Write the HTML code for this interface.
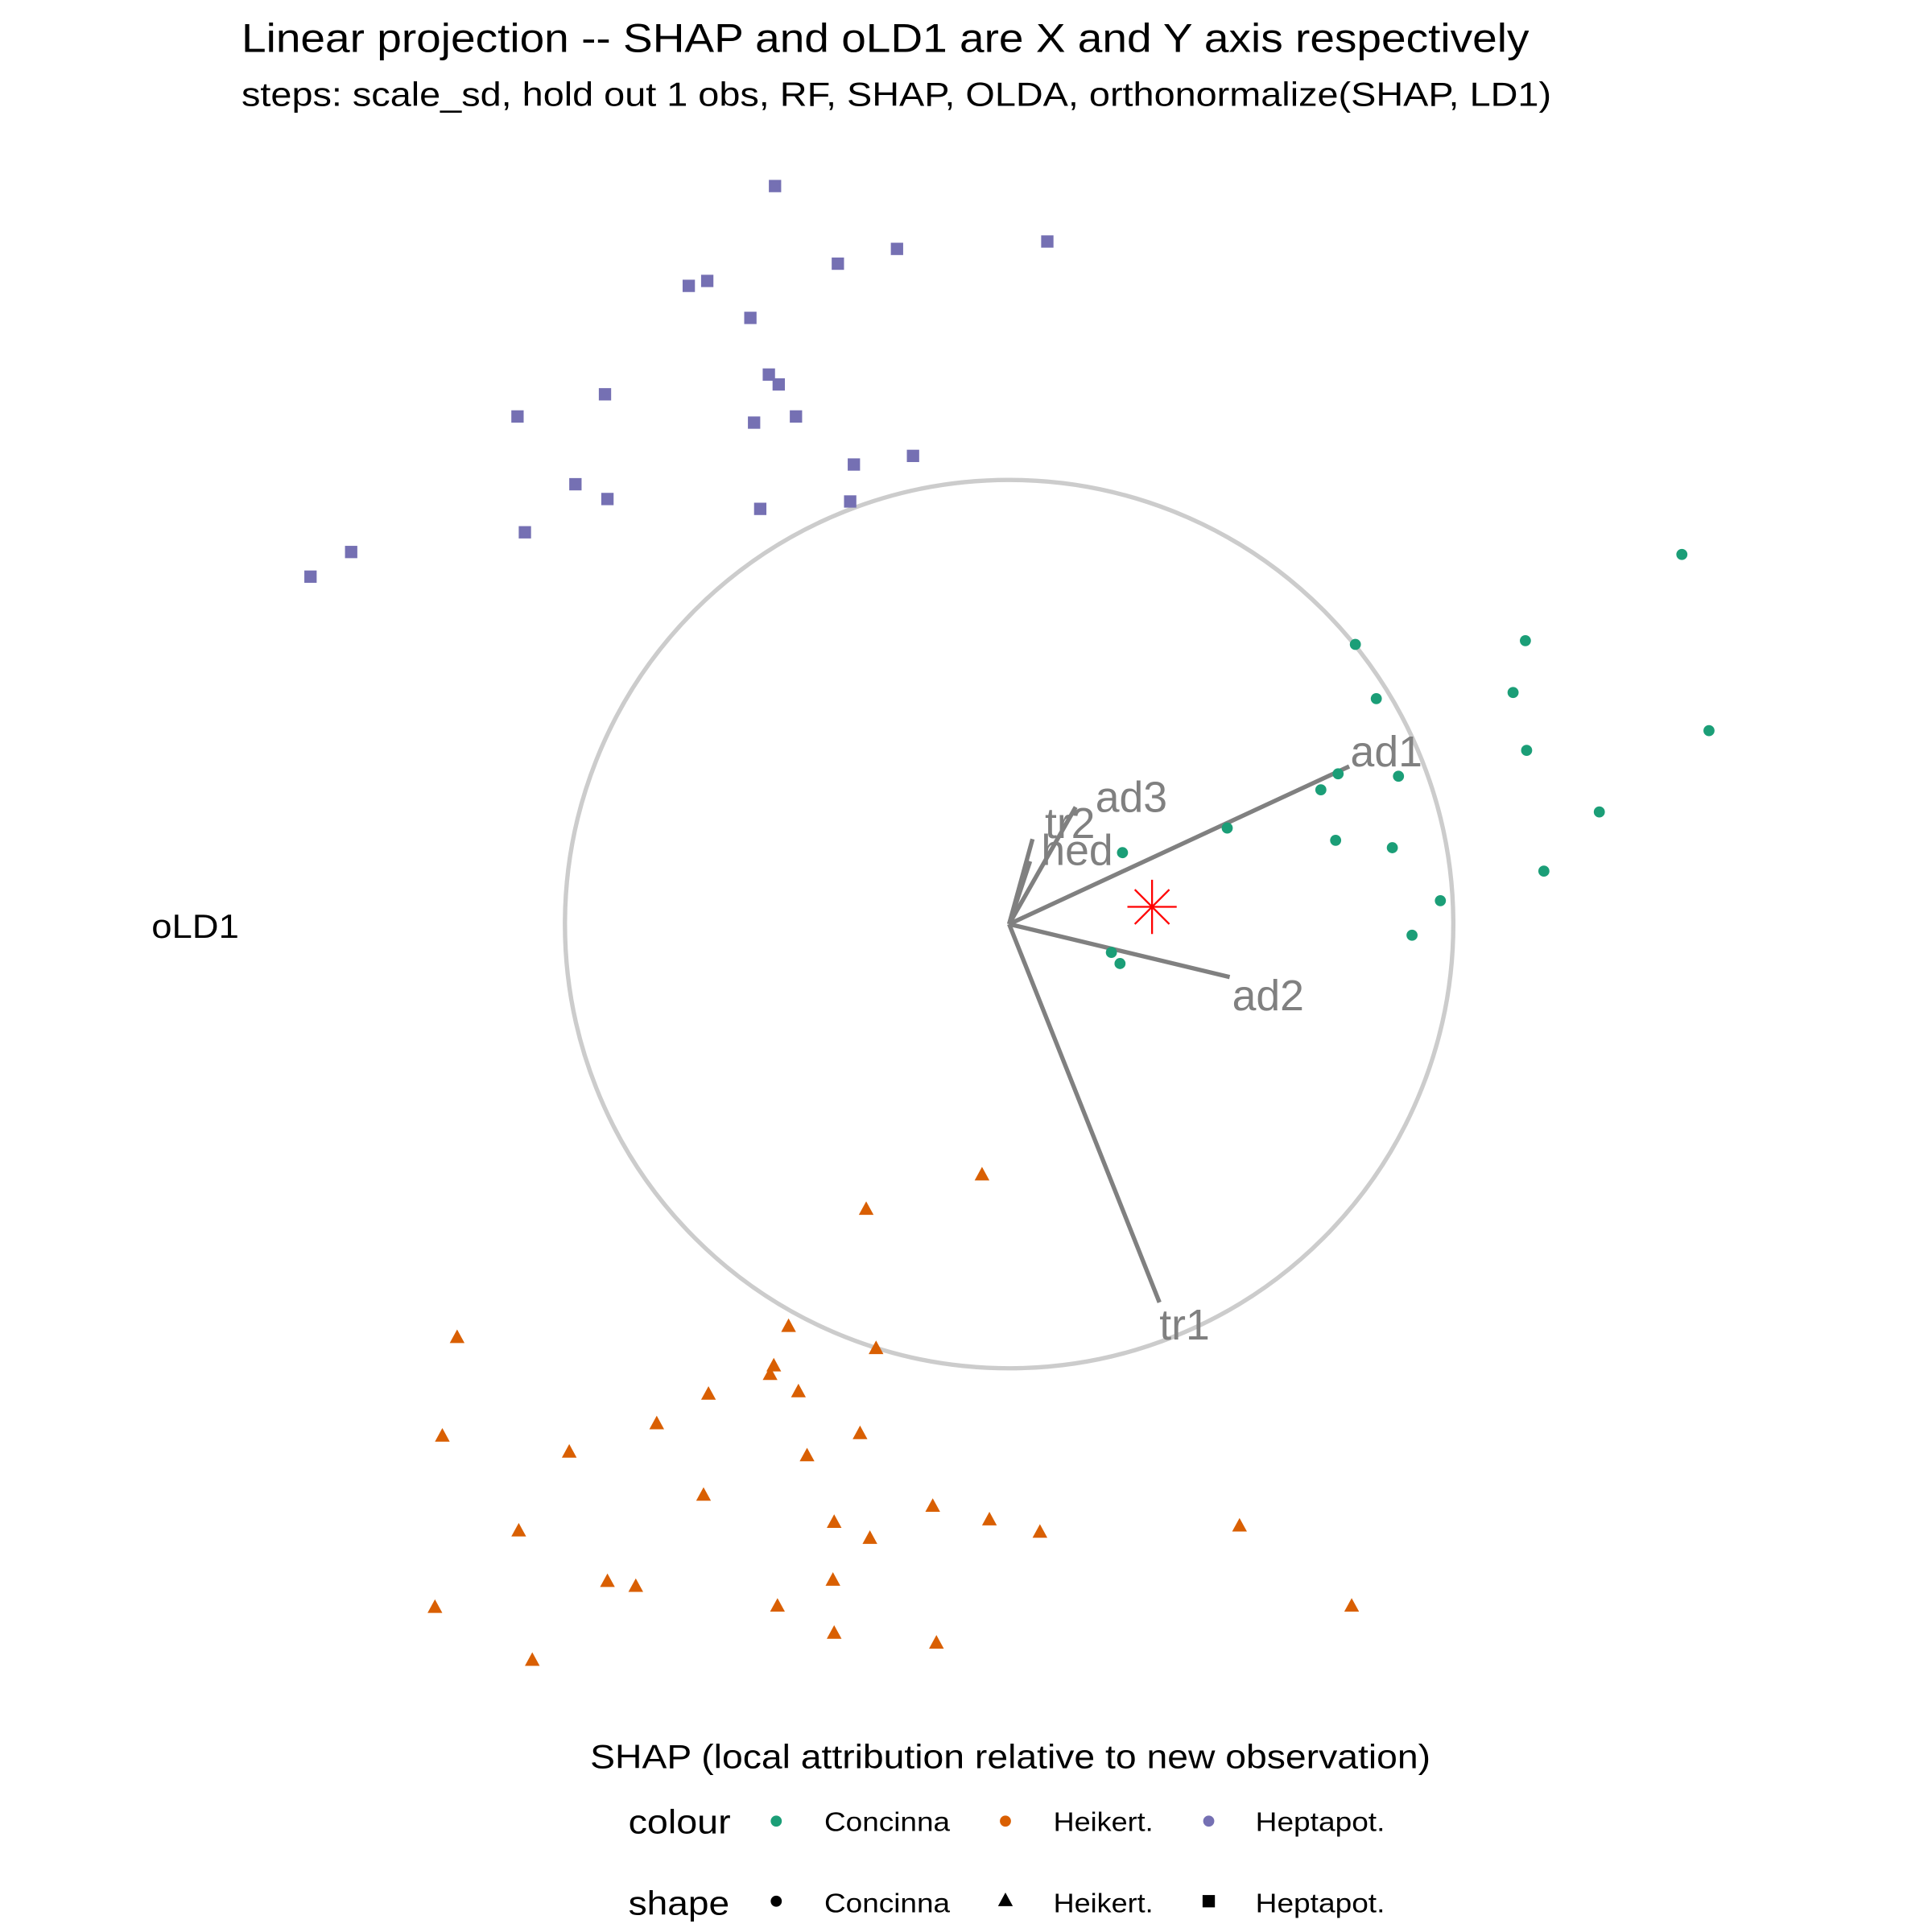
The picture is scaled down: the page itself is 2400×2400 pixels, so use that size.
<!DOCTYPE html>
<html><head><meta charset="utf-8"><style>html,body{margin:0;padding:0;background:#fff}svg{display:block}text{font-family:"Liberation Sans",Arial,sans-serif}</style></head>
<body>
<svg id="chart" width="2400" height="2400" viewBox="0 0 1568 1568" xmlns="http://www.w3.org/2000/svg">
<rect width="1568" height="1568" fill="#fff"/>
<text x="196" y="42" font-size="33" textLength="1045" lengthAdjust="spacingAndGlyphs">Linear projection -- SHAP and oLD1 are X and Y axis respectively</text>
<text x="196" y="86" font-size="27" textLength="1063" lengthAdjust="spacingAndGlyphs">steps: scale_sd, hold out 1 obs, RF, SHAP, OLDA, orthonormalize(SHAP, LD1)</text>
<text x="123" y="761" font-size="27" textLength="71" lengthAdjust="spacingAndGlyphs">oLD1</text>
<text x="479" y="1435" font-size="27" textLength="682" lengthAdjust="spacingAndGlyphs">SHAP (local attribution relative to new observation)</text>
<circle cx="819" cy="750" r="360.5" fill="none" stroke="#cccccc" stroke-width="3.5"/>
<g id="axes"></g><g id="pts"></g>
<g>
<text x="510" y="1488" font-size="27" textLength="83" lengthAdjust="spacingAndGlyphs">colour</text>
<circle cx="630" cy="1478" r="4.5" fill="#1b9e77"/><text x="669" y="1486" font-size="22" textLength="102" lengthAdjust="spacingAndGlyphs">Concinna</text>
<circle cx="816" cy="1478" r="4.5" fill="#d95f02"/><text x="855" y="1486" font-size="22" textLength="81" lengthAdjust="spacingAndGlyphs">Heikert.</text>
<circle cx="981" cy="1478" r="4.5" fill="#7570b3"/><text x="1019" y="1486" font-size="22" textLength="105" lengthAdjust="spacingAndGlyphs">Heptapot.</text>
<text x="510" y="1554" font-size="27" textLength="82" lengthAdjust="spacingAndGlyphs">shape</text>
<circle cx="630" cy="1543" r="4.5" fill="#000"/><text x="669" y="1552" font-size="22" textLength="102" lengthAdjust="spacingAndGlyphs">Concinna</text>
<polygon points="816,1536 822,1547 810,1547" fill="#000"/><text x="855" y="1552" font-size="22" textLength="81" lengthAdjust="spacingAndGlyphs">Heikert.</text>
<rect x="976" y="1538" width="10" height="10" fill="#000"/><text x="1019" y="1552" font-size="22" textLength="105" lengthAdjust="spacingAndGlyphs">Heptapot.</text>
</g>
</svg>
<script>
const axisNames=["ad1","ad2","tr1","ad3","tr2","hed"];
const axisX=[276,179,122,54,19,17];
const axisY=[128,-43,-307,95,69,51];
const labelDX=[277,181,122,70,29,26];
const labelDY=[140,-58,-325,103,82,60];
const hepX=[-190,31,-91,-139,-245,-260,-210,-328,-195,-187,-399,-207,-173,-126,-78,-352,-326,-202,-129,-393,-534,-567];
const hepY=[599,554,548,536,522,518,492,430,446,438,412,407,412,373,380,357,345,337,343,318,302,282];
const conX=[546,419,281,409,298,420,568,267,316,253,479,177,265,311,92,434,350,327,83,90];
const conY=[300,230,227,188,183,141,157,122,120,109,91,78,68,62,58,43,19,-9,-23,-32];
const heiX=[-22,-116,-448,-179,-108,-191,-194,-244,-171,-286,-460,-121,-357,-164,-248,-62,-142,-16,25,187,-398,-113,-326,-303,-143,-466,-188,278,-142,-59,-387];
const heiY=[-204,-232,-336,-327,-345,-359,-366,-382,-380,-406,-416,-414,-429,-432,-464,-473,-486,-484,-494,-489,-493,-499,-534,-538,-533,-555,-554,-554,-576,-584,-598];
const star=[116,14];
const CX=819,CY=750;
function sx(v){return CX+v;}
function sy(v){return CY-v;}
const NS="http://www.w3.org/2000/svg";
const ag=document.getElementById('axes'),pg=document.getElementById('pts');
function mk(t,a){const e=document.createElementNS(NS,t);for(const k in a)e.setAttribute(k,a[k]);return e;}
for(let i=0;i<axisNames.length;i++){
 const l=mk('line',{x1:sx(0),y1:sy(0),x2:sx(axisX[i]),y2:sy(axisY[i]),stroke:'#808080','stroke-width':3.5});
 
 
 ag.appendChild(l);
}
for(let i=0;i<hepX.length;i++){
 const r=mk('rect',{x:sx(hepX[i])-5,y:sy(hepY[i])-5,width:10,height:10,fill:'#7570b3'});
 
 
 pg.appendChild(r);
}
for(let i=0;i<conX.length;i++){
 const c=mk('circle',{cx:sx(conX[i]),cy:sy(conY[i]),r:4.5,fill:'#1b9e77'});
 
 
 pg.appendChild(c);
}
for(let i=0;i<heiX.length;i++){
 const x=sx(heiX[i]),y=sy(heiY[i]);
 const p=mk('polygon',{points:`${x},${y-7} ${x+6},${y+4} ${x-6},${y+4}`,fill:'#d95f02'});
 
 
 pg.appendChild(p);
}
for(let i=0;i<axisNames.length;i++){
 const t=mk('text',{x:sx(labelDX[i]),y:sy(labelDY[i])+12,'font-size':35,fill:'#808080'});
 t.textContent=axisNames[i];
 
 
 ag.appendChild(t);
}
const sg=mk('g',{stroke:'#ff0000','stroke-width':1.5});


const scx=sx(star[0]),scy=sy(star[1]);
[[0,22],[20,0],[14,14],[14,-14]].forEach(([dx,dy])=>{
 sg.appendChild(mk('line',{x1:scx-dx,y1:scy-dy,x2:scx+dx,y2:scy+dy}));
});
pg.appendChild(sg);
</script>
</body></html>
